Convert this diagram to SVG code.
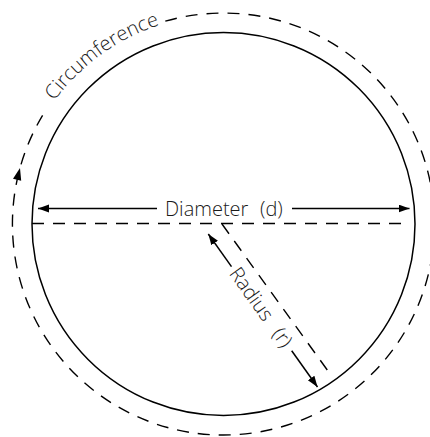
<svg xmlns="http://www.w3.org/2000/svg" width="430" height="437" viewBox="0 0 430 437">
  <style>
    .solid { fill: none; stroke: #000; stroke-width: 1.5; }
    .dash { fill: none; stroke: #000; stroke-width: 1.4; stroke-dasharray: 12 9; }
    .arrow { fill: none; stroke: #000; stroke-width: 1.5; marker-end: url(#head); }
    .lbl { font-family: "Open Sans", "Liberation Sans", sans-serif; font-weight: 300; font-size: 20px; fill: #1a1a1a; }
  </style>
  <defs>
    <marker id="head" markerUnits="userSpaceOnUse" markerWidth="12" markerHeight="9" refX="11" refY="4" orient="auto">
      <path d="M0,0 L11,4 L0,8 z" fill="#000"/>
    </marker>
    <path id="circPath" d="M42.5,119.5 A209,209 0 0 1 223.5,15"/>
  </defs>

  <rect width="430" height="437" fill="#fff"/>

  <g id="circle">
    <circle class="solid" cx="223.5" cy="224" r="191.5"/>
  </g>

  <g id="circumference">
    <path class="dash" d="M165.3,21.2 A211,211 0 1 1 42.6,115.3"/>
    <polygon points="20,168 21.2,180.7 13,178.7" fill="#000"/>
    <text class="lbl"><textPath href="#circPath" startOffset="21.9">Circumference</textPath></text>
  </g>

  <g id="connectors">
    <line class="dash" x1="32" y1="223.5" x2="410" y2="223.5"/>
    <line class="dash" x1="222" y1="224" x2="328" y2="371"/>
    <line class="arrow" x1="157" y1="208.5" x2="38" y2="208.5"/>
    <line class="arrow" x1="292" y1="208.5" x2="409.5" y2="208.5"/>
    <line class="arrow" x1="231.5" y1="266.6" x2="208.3" y2="234"/>
    <line class="arrow" x1="291.7" y1="350.8" x2="317.5" y2="387"/>
  </g>

  <g id="diameter">
    <text class="lbl" x="165" y="216">Diameter</text>
    <text class="lbl" x="260" y="216">(d)</text>
  </g>

  <g id="radius" transform="translate(208.3,234) rotate(54.5)">
    <text class="lbl" x="44" y="6.5">Radius</text>
    <text class="lbl" x="118" y="6.5">(r)</text>
  </g>
</svg>
